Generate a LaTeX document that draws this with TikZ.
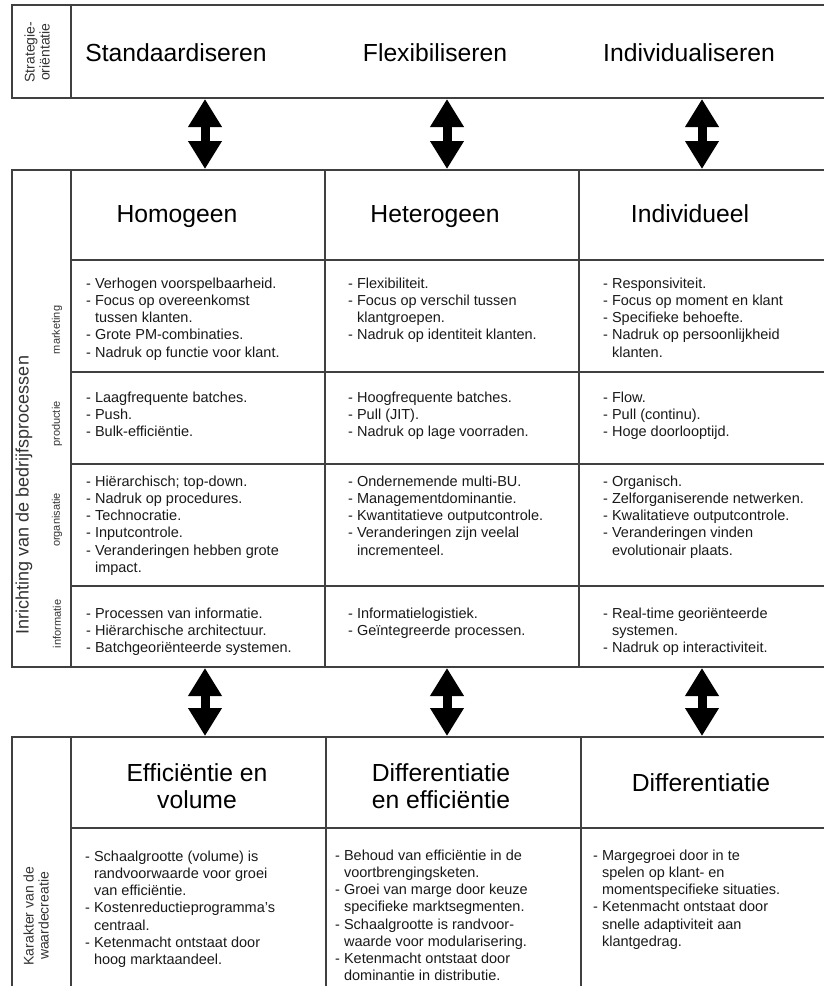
\documentclass[tikz,border=0pt]{standalone}
\usepackage{fontspec}
\setmainfont{Liberation Sans}
\usetikzlibrary{arrows.meta}
\newcommand{\insp}{\hphantom{- }}

\begin{document}
\begin{tikzpicture}[x=1pt, y=-1pt,
  lijn/.style={draw=black!75, line width=1.3pt},
  kop/.style={font=\fontsize{24.7}{26.5}\selectfont, align=center, anchor=base, inner sep=0pt},
  punten/.style={font=\fontsize{14.5}{17.2}\selectfont, align=left, anchor=north west, inner sep=0pt, text=black!90},
  zijlabel/.style={font=\fontsize{14}{15}\selectfont, align=center, rotate=90, inner sep=0pt, text=black!80},
  rijlabel/.style={font=\fontsize{11}{12}\selectfont, rotate=90, inner sep=0pt, text=black!80},
  dubbel/.style={line width=9pt, {Triangle[length=28pt,width=32pt]}-{Triangle[length=28pt,width=32pt]}}]

  \useasboundingbox (0,0) rectangle (824,986);

  \draw[lijn] (830,5) -- (12,5) -- (12,98) -- (830,98);
  \draw[lijn] (71,5) -- (71,98);
  \draw[lijn] (830,170) -- (12,170) -- (12,667) -- (830,667);
  \draw[lijn] (71,170) -- (71,667) (325,170) -- (325,667) (579,170) -- (579,667);
  \foreach \y in {260,372,464,586} \draw[lijn] (71,\y) -- (830,\y);
  \draw[lijn] (830,737) -- (12,737) -- (12,990);
  \draw[lijn] (71,737) -- (71,990) (326,737) -- (326,990) (581,737) -- (581,990);
  \draw[lijn] (71,828) -- (830,828);

  \node[zijlabel] (strat) at (37,52) {Strategie-\\oriëntatie};
  \node[kop] (std) at (176,61) {Standaardiseren};
  \node[kop] (flex) at (435,61) {Flexibiliseren};
  \node[kop] (indi) at (689,61) {Individualiseren};

  \node[zijlabel, font=\fontsize{18}{20}\selectfont] (inr) at (24,495) {Inrichting van de bedrijfsprocessen};
  \node[rijlabel] (mkt) at (57,330) {marketing};
  \node[rijlabel] (prod) at (57,424) {productie};
  \node[rijlabel] (org) at (57,520) {organisatie};
  \node[rijlabel] (inf) at (57,624) {informatie};

  \node[kop] (hom) at (177,222) {Homogeen};
  \node[kop] (het) at (435,222) {Heterogeen};
  \node[kop] (indv) at (690,222) {Individueel};

  \node[punten] (mkt1) at (86,277.5) {- Verhogen voorspelbaarheid.\\- Focus op overeenkomst\\\insp tussen klanten.\\- Grote PM-combinaties.\\- Nadruk op functie voor klant.};
  \node[punten] (mkt2) at (348,277.5) {- Flexibiliteit.\\- Focus op verschil tussen\\\insp klantgroepen.\\- Nadruk op identiteit klanten.};
  \node[punten] (mkt3) at (603,277.5) {- Responsiviteit.\\- Focus op moment en klant\\- Specifieke behoefte.\\- Nadruk op persoonlijkheid\\\insp klanten.};

  \node[punten] (prod1) at (86,391.5) {- Laagfrequente batches.\\- Push.\\- Bulk-efficiëntie.};
  \node[punten] (prod2) at (348,391.5) {- Hoogfrequente batches.\\- Pull (JIT).\\- Nadruk op lage voorraden.};
  \node[punten] (prod3) at (603,391.5) {- Flow.\\- Pull (continu).\\- Hoge doorlooptijd.};

  \node[punten] (org1) at (86,475.5) {- Hiërarchisch; top-down.\\- Nadruk op procedures.\\- Technocratie.\\- Inputcontrole.\\- Veranderingen hebben grote\\\insp impact.};
  \node[punten] (org2) at (348,475.5) {- Ondernemende multi-BU.\\- Managementdominantie.\\- Kwantitatieve outputcontrole.\\- Veranderingen zijn veelal\\\insp incrementeel.};
  \node[punten] (org3) at (603,475.5) {- Organisch.\\- Zelforganiserende netwerken.\\- Kwalitatieve outputcontrole.\\- Veranderingen vinden\\\insp evolutionair plaats.};

  \node[punten] (inf1) at (86,607.5) {- Processen van informatie.\\- Hiërarchische architectuur.\\- Batchgeoriënteerde systemen.};
  \node[punten] (inf2) at (348,607.5) {- Informatielogistiek.\\- Geïntegreerde processen.};
  \node[punten] (inf3) at (603,607.5) {- Real-time georiënteerde\\\insp systemen.\\- Nadruk op interactiviteit.};

  \node[zijlabel] (kar) at (36,916) {Karakter van de\\waardecreatie};
  \node[kop] (effvol) at (197,808) {Efficiëntie en\\volume};
  \node[kop] (diffeff) at (441,808) {Differentiatie\\en efficiëntie};
  \node[kop] (diff) at (701,791) {Differentiatie};

  \node[punten] (kar1) at (85,850.5) {- Schaalgrootte (volume) is\\\insp randvoorwaarde voor groei\\\insp van efficiëntie.\\- Kostenreductieprogramma's\\\insp centraal.\\- Ketenmacht ontstaat door\\\insp hoog marktaandeel.};
  \node[punten] (kar2) at (335,849.5) {- Behoud van efficiëntie in de\\\insp voortbrengingsketen.\\- Groei van marge door keuze\\\insp specifieke marktsegmenten.\\- Schaalgrootte is randvoor-\\\insp waarde voor modularisering.\\- Ketenmacht ontstaat door\\\insp dominantie in distributie.};
  \node[punten] (kar3) at (593,849.5) {- Margegroei door in te\\\insp spelen op klant- en\\\insp momentspecifieke situaties.\\- Ketenmacht ontstaat door\\\insp snelle adaptiviteit aan\\\insp klantgedrag.};

  \foreach \x [count=\i] in {205,447,702} {
    \coordinate (strat\i) at (\x,99);
    \coordinate (proc\i) at (\x,169);
    \coordinate (info\i) at (\x,668);
    \coordinate (waar\i) at (\x,736);
    \draw[dubbel] (strat\i) -- (proc\i);
    \draw[dubbel] (info\i) -- (waar\i);
  }
\end{tikzpicture}
\end{document}
